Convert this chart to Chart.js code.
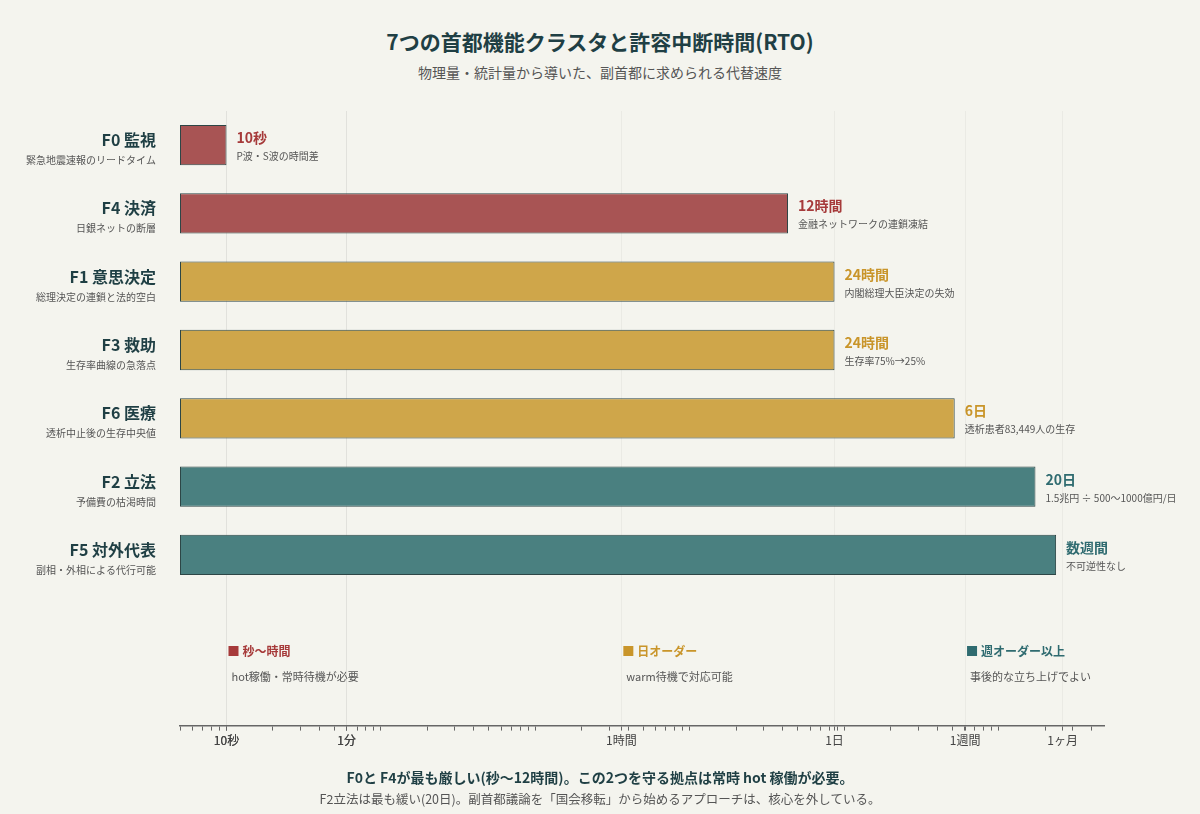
<!DOCTYPE html>
<html><head><meta charset="utf-8">
<script src="https://cdn.jsdelivr.net/npm/chart.js@4/dist/chart.umd.min.js"></script>
<style>
body{margin:0;background:#f4f4ee;font-family:"Noto Sans CJK JP","Noto Sans",sans-serif;}
#wrap{position:relative;width:1200px;height:814px;}
h1{position:absolute;top:26px;width:100%;text-align:center;margin:0;font-size:21px;color:#1f3f44;font-weight:700;}
.sub{position:absolute;top:62px;width:100%;text-align:center;font-size:14px;color:#555;}
.f1{position:absolute;top:767px;width:100%;text-align:center;font-size:14px;font-weight:700;color:#1f3f44;}
.f2{position:absolute;top:789px;width:100%;text-align:center;font-size:12.5px;color:#555;}
canvas{position:absolute;left:0;top:0;}
</style></head><body>
<div id="wrap">
<h1>7つの首都機能クラスタと許容中断時間(RTO)</h1>
<div class="sub">物理量・統計量から導いた、副首都に求められる代替速度</div>
<canvas id="c" width="1200" height="814"></canvas>
<div class="f1">F0と F4が最も厳しい(秒〜12時間)。この2つを守る拠点は常時 hot 稼働が必要。</div>
<div class="f2">F2立法は最も緩い(20日)。副首都議論を「国会移転」から始めるアプローチは、核心を外している。</div>
</div>
<script>
// data (seconds)
const names = ['F0 監視','F4 決済','F1 意思決定','F3 救助','F6 医療','F2 立法','F5 対外代表','',''];
const notes = ['緊急地震速報のリードタイム','日銀ネットの断層','総理決定の連鎖と法的空白','生存率曲線の急落点','透析中止後の生存中央値','予備費の枯渇時間','副相・外相による代行可能','',''];
const rto = [10, 43200, 86400, 86400, 518400, 1728000, 2350000];
const rtoText = ['10秒','12時間','24時間','24時間','6日','20日','数週間'];
const rtoNote = ['P波・S波の時間差','金融ネットワークの連鎖凍結','内閣総理大臣決定の失効','生存率75%→25%','透析患者83,449人の生存','1.5兆円 ÷ 500〜1000億円/日','不可逆性なし'];
const tier = [0,0,1,1,1,2,2];
const tierColor = ['#a85454','#cfa64a','#4a8080'];
const tierText = ['#a63a3a','#c9952a','#2f6b70'];
const legendNames = ['秒〜時間','日オーダー','週オーダー以上'];
const legendNotes = ['hot稼働・常時待機が必要','warm待機で対応可能','事後的な立ち上げでよい'];
const legendAt = [10, 3600, 604800];
const tickVals = [10,60,3600,86400,604800,2592000];
const tickNames = ['10秒','1分','1時間','1日','1週間','1ヶ月'];
const axisMin = 5, axisMax = 4.8e6;

const font = '"Noto Sans CJK JP","Noto Sans",sans-serif';
const deco = {
  id:'deco',
  afterDatasetsDraw(ch){
    const c=ch.ctx, x=ch.scales.x, y=ch.scales.y;
    c.save();
    names.forEach((n,i)=>{
      if(!n) return;
      const yc=y.getPixelForValue(i);
      c.textAlign='right'; c.fillStyle='#1f3f44';
      c.font='bold 16px '+font; c.fillText(n,156,yc+1);
      c.font='10px '+font; c.fillStyle='#555'; c.fillText(notes[i],156,yc+19);
      const xe=x.getPixelForValue(rto[i])+10;
      c.textAlign='left'; c.fillStyle=tierText[tier[i]];
      c.font='bold 14px '+font; c.fillText(rtoText[i],xe,yc-2);
      c.font='10px '+font; c.fillStyle='#555'; c.fillText(rtoNote[i],xe,yc+15);
    });
    legendNames.forEach((n,k)=>{
      const lx=x.getPixelForValue(legendAt[k])+2;
      c.fillStyle=tierText[k]; c.fillRect(lx,646,10,10);
      c.font='bold 12px '+font; c.textAlign='left'; c.fillText(n,lx+14,656);
      c.fillStyle='#555'; c.font='11px '+font; c.fillText(legendNotes[k],lx+3,681);
    });
    c.restore();
  }
};
new Chart(document.getElementById('c'),{
  type:'bar',
  data:{labels:names,datasets:[{
    data:rto.map(v=>[axisMin,v]),
    backgroundColor:tier.map(t=>tierColor[t]),
    borderColor:'#2d4646',borderWidth:1,borderSkipped:false,
    barPercentage:0.59,categoryPercentage:1
  }]},
  options:{
    indexAxis:'y',responsive:false,animation:false,
    layout:{padding:{left:180,right:96,top:111,bottom:63}},
    plugins:{legend:{display:false},tooltip:{enabled:false}},
    scales:{
      y:{display:false},
      x:{type:'logarithmic',min:axisMin,max:axisMax,
        afterBuildTicks(s){
          const t=[];
          for(let e=0;e<7;e++)for(let m=1;m<10;m++){const v=m*Math.pow(10,e);if(v>=axisMin&&v<=axisMax)t.push({value:v});}
          tickVals.forEach(v=>t.push({value:v}));
          s.ticks=t.sort((a,b)=>a.value-b.value);
        },
        ticks:{autoSkip:false,maxRotation:0,color:'#444',font:{size:12,family:font},
          callback(v){const i=tickVals.indexOf(v);return i<0?'':tickNames[i];}},
        grid:{drawOnChartArea:true,
          color:c=>tickVals.includes(c.tick&&c.tick.value)?'rgba(0,0,0,0.04)':'rgba(0,0,0,0)',
          tickColor:'#666',tickLength:c=>tickVals.includes(c.tick&&c.tick.value)?7:5},
        border:{color:'#666',width:1.5}
      }
    }
  },
  plugins:[deco]
});
</script>
</body></html>
